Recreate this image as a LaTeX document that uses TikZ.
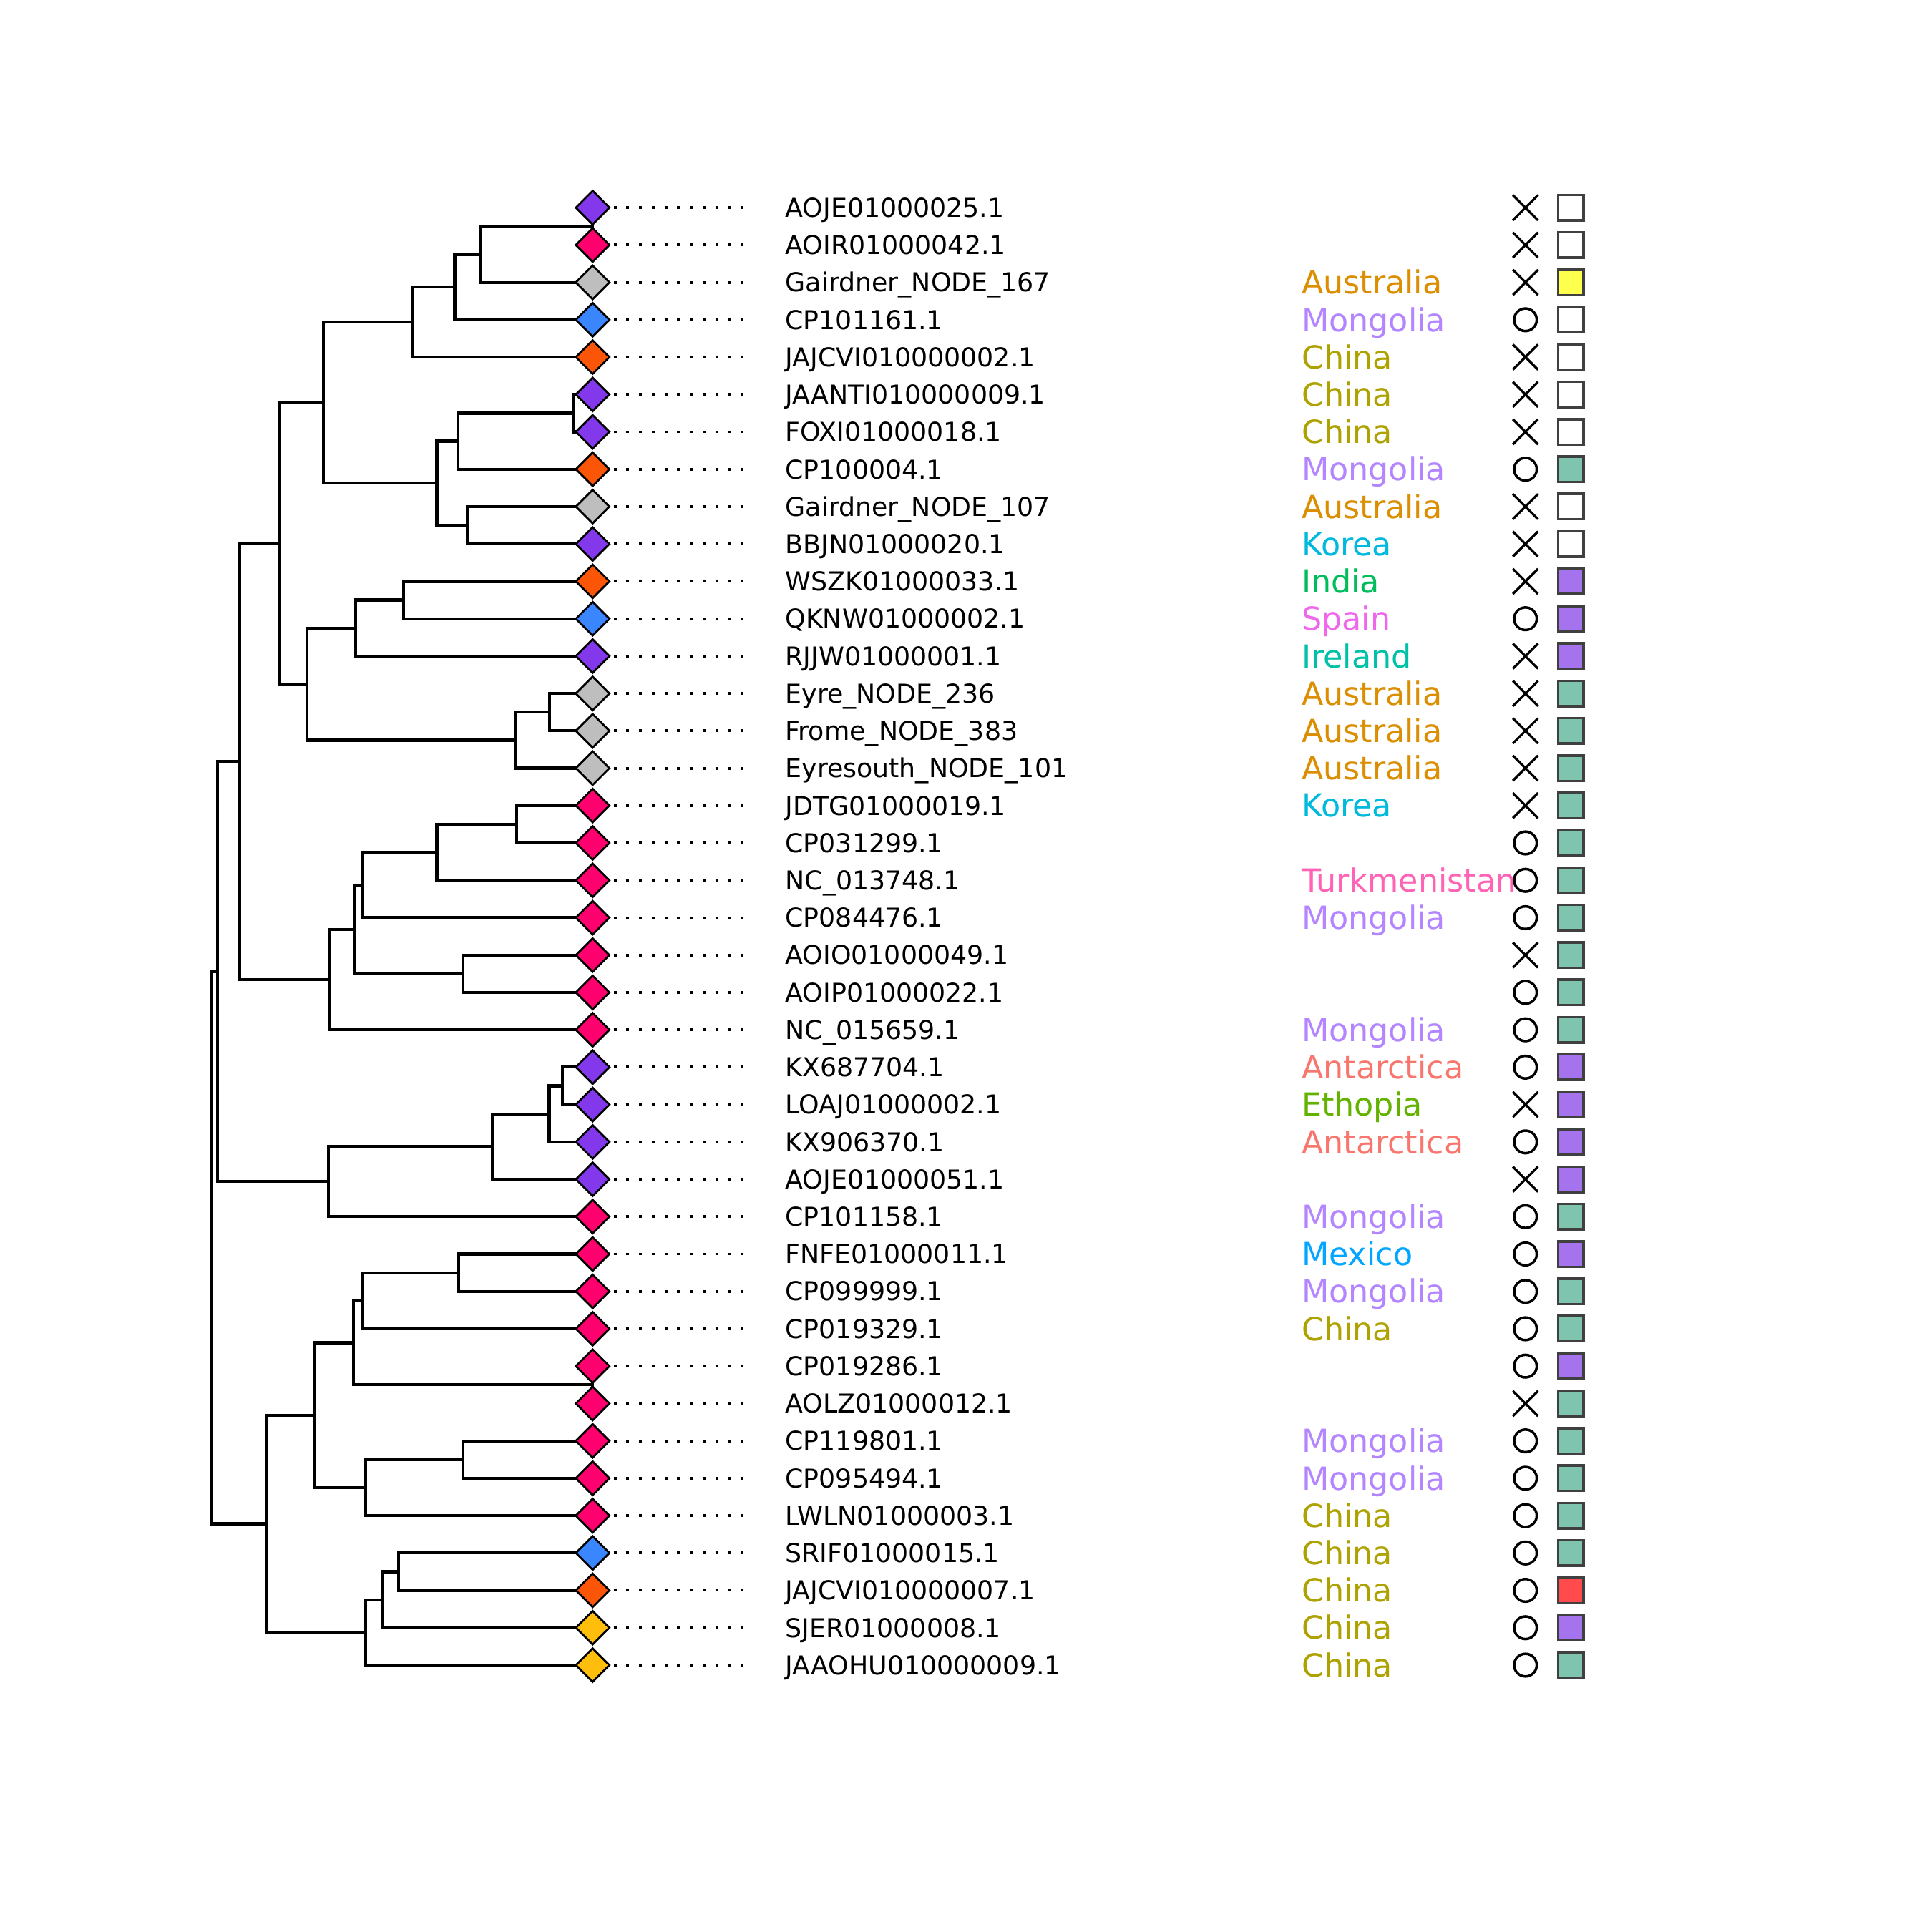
\documentclass[tikz,border=0pt]{standalone}
\usepackage{fontspec}
\setmainfont{DejaVu Sans}
\usetikzlibrary{calc,shapes.geometric,shapes.misc}

% tip colours
\definecolor{tipPurple}{HTML}{8338EC}
\definecolor{tipPink}{HTML}{FF006E}
\definecolor{tipGrey}{HTML}{BEBEBE}
\definecolor{tipBlue}{HTML}{3A86FF}
\definecolor{tipOrange}{HTML}{FB5607}
\definecolor{tipYellow}{HTML}{FFBE0B}
% square colours
\definecolor{sqTeal}{HTML}{7FC4AE}
\definecolor{sqPurple}{HTML}{A673EF}
\definecolor{sqYellow}{HTML}{FFFF4D}
\definecolor{sqRed}{HTML}{FF4B4B}
% country colours
\definecolor{Antarctica}{HTML}{F8766D}
\definecolor{Australia}{HTML}{DB8E00}
\definecolor{China}{HTML}{AEA200}
\definecolor{Ethopia}{HTML}{64B200}
\definecolor{India}{HTML}{00BD5C}
\definecolor{Ireland}{HTML}{00C1A7}
\definecolor{Korea}{HTML}{00BADE}
\definecolor{Mexico}{HTML}{00A6FF}
\definecolor{Mongolia}{HTML}{B385FF}
\definecolor{Spain}{HTML}{EF67EB}
\definecolor{Turkmenistan}{HTML}{FF63B6}

% clade: name, x, first child, second child
\newcommand\clade[4]{%
  \coordinate (#1) at ($(#2,0 |- #3)!.5!(#2,0 |- #4)$);
  \draw[branch] (#3) -| (#1) |- (#4);}

\begin{document}
\begin{tikzpicture}[x=0.017219cm, y=-0.017219cm,
    branch/.style={line width=1.2pt},
    tip/.style={diamond, draw, line width=0.8pt, inner sep=0pt, minimum width=0.48cm, minimum height=0.48cm},
    leader/.style={line width=1.1pt, dash pattern=on 1.1pt off 3.95pt, shorten <=0.04cm, shorten >=0.585cm},
    idlab/.style={anchor=base west, inner sep=0pt, font=\fontsize{10.33}{12}\selectfont, yshift=-3.77pt},
    ctry/.style={anchor=base west, inner sep=0pt, font=\fontsize{12.63}{15}\selectfont, yshift=-4.6pt},
    crs/.style={cross out, draw, line width=0.95pt, inner sep=0pt, minimum size=0.318cm},
    circ/.style={circle, draw, line width=1pt, inner sep=0pt, minimum size=0.316cm},
    flag/.style={draw=black!75, line width=1pt, inner sep=0pt, minimum size=0.355cm},
  ]
  \fill[white] (0,0) rectangle (1568,1568);
  \useasboundingbox (0,0) rectangle (1568,1568);

  % leaf tips
  \foreach \i in {0,...,39}
    \coordinate (t\i) at (481,{168.5+30.33*\i});

  % tree
  \clade{a01}{481}{t0}{t1}
  \clade{a012}{389.5}{a01}{t2}
  \clade{a0123}{369}{a012}{t3}
  \clade{a04}{334.5}{a0123}{t4}
  \clade{b56}{465.5}{t5}{t6}
  \clade{b567}{371.7}{b56}{t7}
  \clade{b89}{379.5}{t8}{t9}
  \clade{b59}{354.5}{b567}{b89}
  \clade{ab}{262.4}{a04}{b59}
  \clade{c1011}{327.5}{t10}{t11}
  \clade{c1012}{288.5}{c1011}{t12}
  \clade{c1314}{446}{t13}{t14}
  \clade{c1315}{418}{c1314}{t15}
  \clade{c}{249}{c1012}{c1315}
  \clade{abc}{226.8}{ab}{c}
  \clade{d1617}{419.5}{t16}{t17}
  \clade{d1618}{354.5}{d1617}{t18}
  \clade{d1619}{294}{d1618}{t19}
  \clade{d2021}{375.7}{t20}{t21}
  \clade{d1621}{287.5}{d1619}{d2021}
  \clade{d}{267.2}{d1621}{t22}
  \clade{abcd}{194.2}{abc}{d}
  \clade{e2324}{456.5}{t23}{t24}
  \clade{e2325}{445.7}{e2324}{t25}
  \clade{e2326}{399.5}{e2325}{t26}
  \clade{e}{266.4}{e2326}{t27}
  \clade{top}{176.4}{abcd}{e}
  \clade{f2829}{372.4}{t28}{t29}
  \clade{f2830}{294.6}{f2829}{t30}
  \clade{f3132}{481}{t31}{t32}
  \clade{f2832}{287}{f2830}{f3132}
  \clade{f3334}{375.7}{t33}{t34}
  \clade{f3335}{296.8}{f3334}{t35}
  \clade{f28}{255}{f2832}{f3335}
  \clade{g3637}{323.5}{t36}{t37}
  \clade{g3638}{310.2}{g3637}{t38}
  \clade{g3639}{296.8}{g3638}{t39}
  \clade{f}{216.8}{f28}{g3639}
  \clade{root}{172}{top}{f}

  % tips, names, marks
  \foreach \nm/\tc/\mk/\sq [count=\i from 0] in {
      AOJE01000025.1/tipPurple/crs/white,
      AOIR01000042.1/tipPink/crs/white,
      Gairdner\_NODE\_167/tipGrey/crs/sqYellow,
      CP101161.1/tipBlue/circ/white,
      JAJCVI010000002.1/tipOrange/crs/white,
      JAANTI010000009.1/tipPurple/crs/white,
      FOXI01000018.1/tipPurple/crs/white,
      CP100004.1/tipOrange/circ/sqTeal,
      Gairdner\_NODE\_107/tipGrey/crs/white,
      BBJN01000020.1/tipPurple/crs/white,
      WSZK01000033.1/tipOrange/crs/sqPurple,
      QKNW01000002.1/tipBlue/circ/sqPurple,
      RJJW01000001.1/tipPurple/crs/sqPurple,
      Eyre\_NODE\_236/tipGrey/crs/sqTeal,
      Frome\_NODE\_383/tipGrey/crs/sqTeal,
      Eyresouth\_NODE\_101/tipGrey/crs/sqTeal,
      JDTG01000019.1/tipPink/crs/sqTeal,
      CP031299.1/tipPink/circ/sqTeal,
      NC\_013748.1/tipPink/circ/sqTeal,
      CP084476.1/tipPink/circ/sqTeal,
      AOIO01000049.1/tipPink/crs/sqTeal,
      AOIP01000022.1/tipPink/circ/sqTeal,
      NC\_015659.1/tipPink/circ/sqTeal,
      KX687704.1/tipPurple/circ/sqPurple,
      LOAJ01000002.1/tipPurple/crs/sqPurple,
      KX906370.1/tipPurple/circ/sqPurple,
      AOJE01000051.1/tipPurple/crs/sqPurple,
      CP101158.1/tipPink/circ/sqTeal,
      FNFE01000011.1/tipPink/circ/sqPurple,
      CP099999.1/tipPink/circ/sqTeal,
      CP019329.1/tipPink/circ/sqTeal,
      CP019286.1/tipPink/circ/sqPurple,
      AOLZ01000012.1/tipPink/crs/sqTeal,
      CP119801.1/tipPink/circ/sqTeal,
      CP095494.1/tipPink/circ/sqTeal,
      LWLN01000003.1/tipPink/circ/sqTeal,
      SRIF01000015.1/tipBlue/circ/sqTeal,
      JAJCVI010000007.1/tipOrange/circ/sqRed,
      SJER01000008.1/tipYellow/circ/sqPurple,
      JAAOHU010000009.1/tipYellow/circ/sqTeal} {
    \node[tip, fill=\tc] (l\i) at (t\i) {};
    \node[idlab] (id\i) at (637,{168.5+30.33*\i}) {\nm};
    \draw[leader] (l\i.east) -- (l\i.east -| id\i.west);
    \node[\mk] (m\i) at (1238,{168.5+30.33*\i}) {};
    \node[flag, fill=\sq] (s\i) at (1275,{168.5+30.33*\i}) {};
  }

  % countries
  \foreach \r/\c in {2/Australia, 3/Mongolia, 4/China, 5/China, 6/China,
      7/Mongolia, 8/Australia, 9/Korea, 10/India, 11/Spain, 12/Ireland,
      13/Australia, 14/Australia, 15/Australia, 16/Korea, 18/Turkmenistan,
      19/Mongolia, 22/Mongolia, 23/Antarctica, 24/Ethopia, 25/Antarctica,
      27/Mongolia, 28/Mexico, 29/Mongolia, 30/China, 33/Mongolia,
      34/Mongolia, 35/China, 36/China, 37/China, 38/China, 39/China}
    \node[ctry, text=\c] (cty\r) at (1056,{168.5+30.33*\r}) {\c};
\end{tikzpicture}
\end{document}
